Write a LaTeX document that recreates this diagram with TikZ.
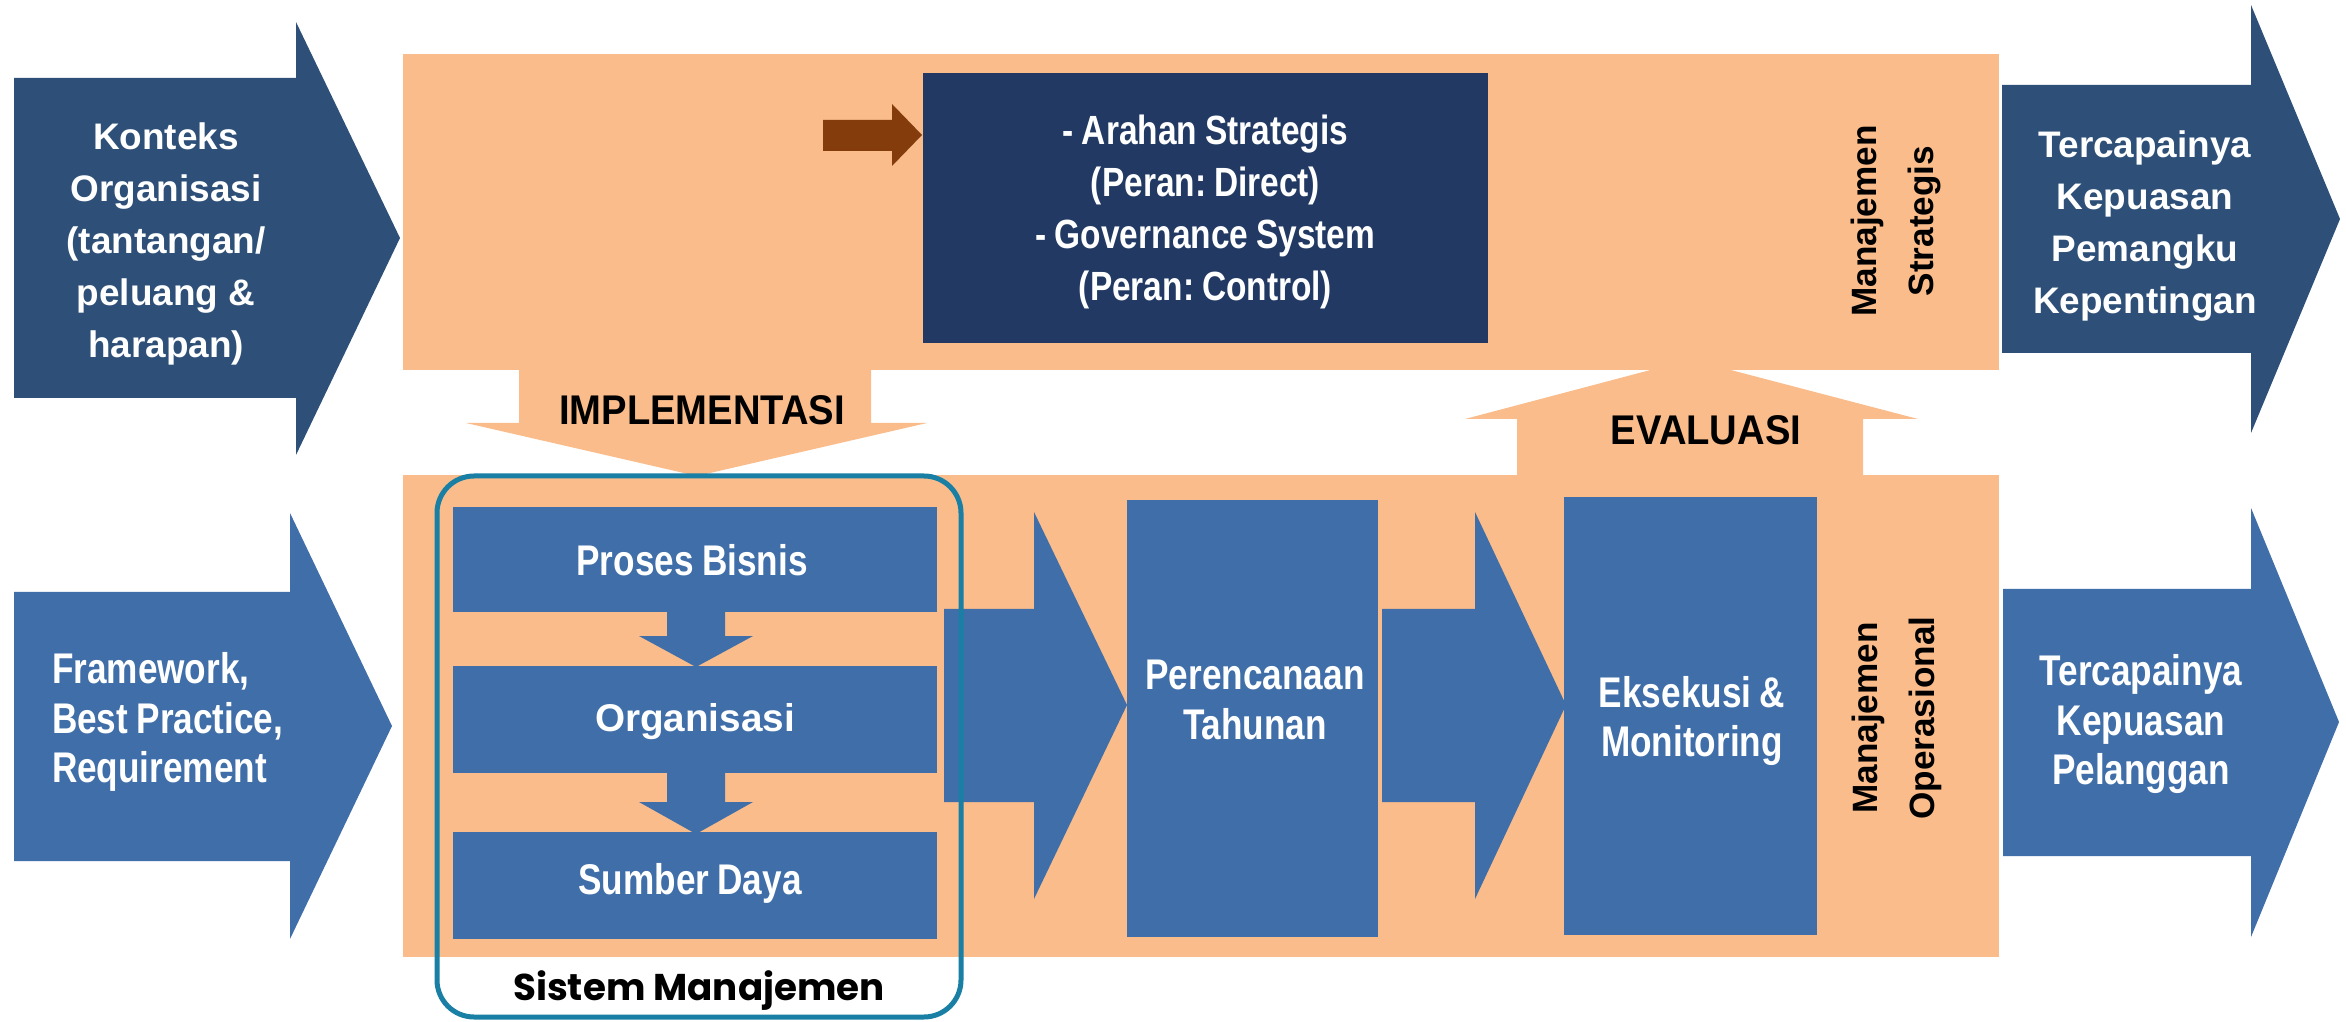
\documentclass[tikz,border=0pt]{standalone}
\usepackage{fontspec}
\setmainfont{Liberation Sans}
\newfontfamily\nbf{Liberation Sans Bold}[FakeStretch=0.82, WordSpace=0.85]
\newfontfamily\mbf{Liberation Sans Bold}[FakeStretch=0.92]
\newfontfamily\smfont{Poppins}
\frenchspacing

\definecolor{peach}{HTML}{F9BC8A}
\definecolor{darkarrow}{HTML}{2E5078}
\definecolor{navybox}{HTML}{213963}
\definecolor{midblue}{HTML}{3F6EA9}
\definecolor{brownarrow}{HTML}{843C0C}
\definecolor{tealline}{HTML}{1A7FA4}

\tikzset{
  band/.style={fill=peach},
  blk/.style={fill=midblue, draw=none},
  darkblk/.style={fill=darkarrow, draw=none},
  wtext/.style={text=white, align=center},
  topfont/.style={font=\bfseries\fontsize{10.5}{14.8}\selectfont},
  labfont/.style={font=\mbf\fontsize{11.8}{13}\selectfont},
  sidefont/.style={font=\bfseries\fontsize{10}{16}\selectfont},
  boxfont/.style={font=\nbf\fontsize{11.6}{14.8}\selectfont},
  lowfont/.style={font=\nbf\fontsize{12.2}{14}\selectfont},
}

\begin{document}
\begin{tikzpicture}[x=0.01cm, y=-0.01cm, every node/.style={inner sep=0pt, outer sep=0pt}]
\useasboundingbox (0,0) rectangle (2346,1022);
\fill[white] (0,0) rectangle (2346,1022);

% strategic and operational bands
\fill[band] (403,54) rectangle (1999,370);
\fill[band] (403,475) rectangle (1999,957);

% implementation (down) and evaluation (up) arrows
\fill[band] (519,366) -- (871,366) -- (871,423) -- (927,423) -- (697,476)
  -- (466,423) -- (519,423) -- cycle;
\fill[band] (1517,479) -- (1517,419) -- (1465,419) -- (1658,368) -- (1723,368)
  -- (1918,419) -- (1863,419) -- (1863,479) -- cycle;

% input / output arrows of the strategic level
\fill[darkblk] (14,78) -- (296,78) -- (296,22) -- (400,238) -- (296,455)
  -- (296,398) -- (14,398) -- cycle;
\fill[darkblk] (2002,85) -- (2251,85) -- (2251,5) -- (2340,219) -- (2251,433)
  -- (2251,353) -- (2002,353) -- cycle;

% input / output arrows of the operational level
\fill[blk] (14,592) -- (290,592) -- (290,513) -- (392,726) -- (290,939)
  -- (290,861) -- (14,861) -- cycle;
\fill[blk] (2003,589) -- (2251,589) -- (2251,508) -- (2339,722) -- (2251,937)
  -- (2251,856) -- (2003,856) -- cycle;

% flow arrows inside the operational band
\fill[blk] (944,609) -- (1034,609) -- (1034,512) -- (1127,705) -- (1034,899)
  -- (1034,802) -- (944,802) -- cycle;
\fill[blk] (1382,609) -- (1475,609) -- (1475,512) -- (1566,705) -- (1475,899)
  -- (1475,802) -- (1382,802) -- cycle;

% management system blocks
\node[blk, minimum width=4.84cm, minimum height=1.05cm] (proses) at (695,559.5) {};
\node[blk, minimum width=4.84cm, minimum height=1.07cm] (org) at (695,719.5) {};
\node[blk, minimum width=4.84cm, minimum height=1.07cm] (sdm) at (695,885.5) {};
\fill[blk] (667,608) -- (725,608) -- (725,636) -- (753,636) -- (696,667)
  -- (639,636) -- (667,636) -- cycle;
\fill[blk] (667,771) -- (725,771) -- (725,802) -- (753,802) -- (696,834)
  -- (639,802) -- (667,802) -- cycle;

% planning and execution blocks
\node[blk, minimum width=2.51cm, minimum height=4.37cm] (plan) at (1252.5,718.5) {};
\node[blk, minimum width=2.53cm, minimum height=4.38cm] (exec) at (1690.5,716) {};

% strategic direction box and its pointer
\node[fill=navybox, minimum width=5.65cm, minimum height=2.70cm] (arahan) at (1205.5,208) {};
\fill[brownarrow] (823,120) -- (892,120) -- (892,104) -- (922,135) -- (892,166)
  -- (892,151) -- (823,151) -- cycle;

% outline of the management system
\draw[tealline, line width=0.05cm, rounded corners=0.37cm] (437,476) rectangle (961,1017);

% texts
\node[wtext, topfont] (konteks) at (166,244)
  {Konteks\\Organisasi\\(tantangan/\\peluang \&\\harapan)};
\node[wtext, topfont] (stakeholder) at (2145,226)
  {Tercapainya\\Kepuasan\\Pemangku\\Kepentingan};
\node[wtext, boxfont] (arahantext) at (1205.5,212)
  {- Arahan Strategis\\(Peran: Direct)\\- Governance System\\(Peran: Control)};
\node[labfont] (impl) at (702,410) {IMPLEMENTASI};
\node[labfont] (eval) at (1706,430) {EVALUASI};
\node[sidefont, align=center, rotate=90] (mstrat) at (1896,221) {Manajemen\\Strategis};
\node[sidefont, align=center, rotate=90] (mops) at (1897,718) {Manajemen\\Operasional};
\node[text=white, lowfont, align=left, anchor=west] (framework) at (52,722)
  {Framework,\\Best Practice,\\Requirement};
\node[wtext, lowfont] (prosestext) at (692,560) {Proses Bisnis};
\node[wtext, font=\bfseries\fontsize{11}{13}\selectfont] (orgtext) at (695,722) {Organisasi};
\node[wtext, lowfont] (sdmtext) at (690,883) {Sumber Daya};
\node[wtext, lowfont] (plantext) at (1255,700) {Perencanaan\\Tahunan};
\node[wtext, lowfont] (exectext) at (1692,721) {Eksekusi \&\\Monitoring};
\node[wtext, lowfont] (customer) at (2141,724) {Tercapainya\\Kepuasan\\Pelanggan};
\node[anchor=base, font={\smfont\bfseries\fontsize{10.6}{13}\selectfont}] (sistem)
  at (699,1000) {Sistem Manajemen};
\end{tikzpicture}
\end{document}
